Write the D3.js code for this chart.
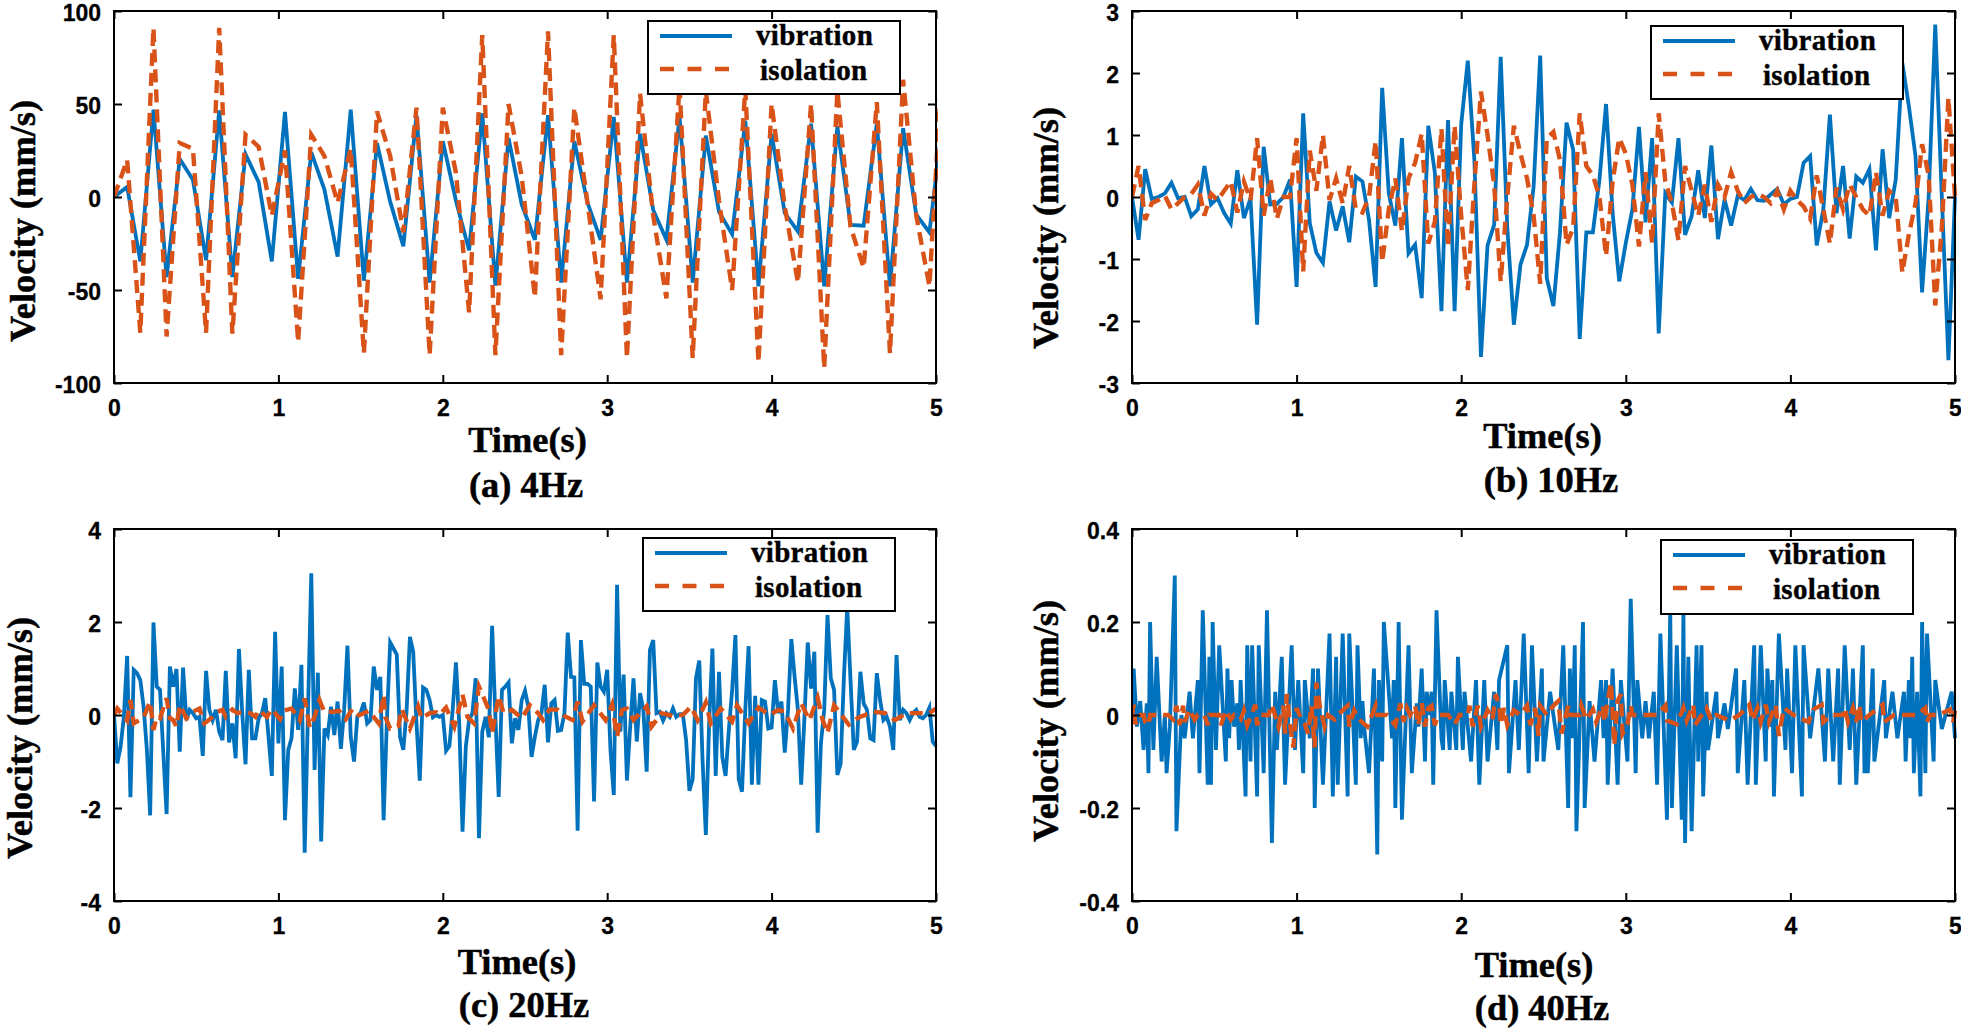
<!DOCTYPE html>
<html>
<head>
<meta charset="utf-8">
<script src="https://cdn.jsdelivr.net/npm/d3@7"></script>
<style>
	html, body { margin: 0; padding: 0; background: #fff; }
	svg { display: block; }
	.tick text { font-family: "Liberation Sans", Arial, sans-serif; font-weight: bold; font-size: 23px; fill: #000; stroke: #000; stroke-width: 0.3px; }
	.tick line { stroke: #000; stroke-width: 2px; }
	.label { font-family: "Liberation Serif", "Times New Roman", serif; font-weight: bold; font-size: 36.4px; fill: #000; stroke: #000; stroke-width: 0.5px; text-anchor: middle; }
	.legend-text { font-family: "Liberation Serif", "Times New Roman", serif; font-weight: bold; font-size: 29px; fill: #000; stroke: #000; stroke-width: 0.4px; letter-spacing: 0.3px; }
</style>
</head>
<body>
<div id="chart-area"></div>
<script>

// Values
let timeTicks = [0, 1, 2, 3, 4, 5];
let seriesNames = ["vibration", "isolation"];

// (a) 4Hz, one sample every 0.08 s
let stepA = 0.08;
let vibA = [0, 5.4, -34.6, 47, -43, 20.4, 9.3, -34, 46.5, -43, 23, 8, -34.6, 45.7, -44, 24, 4, -32, 47, -45, 29, -2.5, -26.5, 44, -46, 30, -2, -28.7, 45, -47.6, 31.7, -4, -23, 44, -46, 30, -3, -23, 43, -46, 34, -7, -23, 43, -46, 33, -8, -20, 41, -48, 34, -8.6, -18.5, 39.4, -48, 38, -15, -15.4, 39.4, -48, 37, -9.5, -19, 40];
let isoA = [0, 20, -73, 91, -75, 29, 26, -73, 91, -73.5, 33.5, 27, -10, 25, -78, 33.5, 22, -3, 26, -84, 46, 22, -19, 48, -85, 48, 13, -62, 87, -85, 50, 11, -54, 89, -85, 48, -3, -55, 87, -86.5, 55.5, -10, -54.5, 60, -86.5, 57, -2, -50, 58, -89, 50, -5, -46, 50, -92, 57, -16, -38, 51, -84, 63, -10, -48, 76];

// (b) 10Hz, one sample every 0.04 s
let stepB = 0.04;
let vibB = [0, -.69, .45, -.03, 0, .06, .23, -.02, 0, -.31, -.2, .5, -.12, -.02, -.26, -.43, .43, -.34, -.02, -2.06, .81, -.12, -.11, 0, .28, -1.45, 1.35, -.42, -.9, -1.06, -.07, -.54, -.15, -.73, .33, .25, -.37, -1.45, 1.76, .06, -.46, .95, -.91, -.77, -1.63, 1.15, .39, -1.84, 1.24, -1.84, 1.17, 2.2, .6, -2.58, -.78, -.45, 2.26, -.5, -2.06, -1.09, -.77, .17, 2.28, -1.31, -1.76, -.58, 1.2, .76, -2.29, -.57, -.57, .28, 1.5, -.26, -1.36, -.74, -.2, 1.13, -.41, .95, -2.2, .06, -.09, .95, -.61, -.31, .43, -.34, .83, -.68, -.04, -.46, .02, -.05, .13, -.05, -.06, .04, .13, -.12, -.03, 0, .55, .66, -.78, -.2, 1.33, -.26, .5, -.67, .33, .23, .45, -.86, .77, -.34, .28, 2.16, 1.46, .66, -1.54, 0, 2.78, 0, -2.63, 0];
let isoB = [0, .5, -.37, -.1, -.05, .02, -.2, -.1, 0, .05, .2, -.3, .05, -.05, .1, .25, -.25, .25, -.05, .95, -.3, .3, -.35, 0, 0, .95, -1.2, .75, .1, 1, -.05, .3, -.1, .5, -.2, -.25, 0, .9, -1.05, -.2, .3, -.55, .3, .55, 1.02, -.75, -.4, 1.1, -.8, 1.15, -.3, -1.5, .2, 1.7, 1, .2, -1.36, 0, 1.15, .7, .3, -.3, -1.4, .95, 1.05, .6, -.77, -.5, 1.35, .5, .35, 0, -.95, .25, .95, .7, .2, -.8, .4, -.75, 1.35, .25, -.1, -.7, .5, .1, -.3, .2, -.4, .2, 0, .4, .1, -.1, 0, .05, 0, -.1, .1, -.2, .1, -.05, -.15, -.35, .35, -.2, -.75, .15, -.2, .2, 0, -.2, -.3, .4, -.3, .1, 0, -1.22, -.6, -.1, .85, .35, -1.75, -.5, 1.6, 0];

// (c) 20Hz, one sample every 0.02 s
let stepC = 0.02;
let vibC = [0, -1.04, -.68, -.04, 1.27, -1.77, .97, .9, .75, .18, -.75, -2.16, 1.99, .61, .54, -.82, -2.13, 1.04, .61, .99, -.79, 1.02, -.11, .11, .04, -.07, -.04, -.88, .95, .11, -.11, .11, -.36, -.54, .95, -.59, -.18, -.93, 1.42, .04, -1.06, .97, -.5, -.5, -.07, .04, .36, -.47, -1.31, 1.79, -.61, 1.04, -2.26, -.75, -.5, .57, -.32, 1.08, -2.96, .1, 3.05, -1.18, .91, -2.72, -.29, -.43, .18, -.43, .29, -.73, .11, 1.49, -.47, -1, -.04, .04, .27, -.18, -.11, 1.04, .54, .82, -2.26, -.11, 1.56, 1.43, 1.3, -.47, -.75, .11, 1.68, 1.36, -.18, -1.41, .59, .54, .32, -.05, 0, -.04, 0, -.77, -.67, .1, 1.13, -.18, -2.51, -.68, -.11, .04, .79, -2.65, -.36, -.04, -.48, 1.92, -.04, -1.76, .54, .61, .7, -.61, -.07, -.32, .32, .52, .18, -.9, -.47, -.11, .04, .65, -.59, .25, .32, -.34, -.32, .04, 1.77, .82, .81, -2.49, 1.61, .67, .67, .61, -1.86, 1.13, .61, .5, .97, -.75, -1.72, 2.8, -.36, .87, -1.41, -.25, .79, -.57, .47, .11, -1.22, 1.4, 1.61, .04, .07, -.12, .04, -.04, .14, -.04, .02, .02, -.54, -1.63, -1.38, .79, 1.17, -.97, -2.58, -.18, 1.43, -1.31, .93, -.9, -1.31, -.32, .54, 1.72, -1.38, -1.65, .11, 1.48, -1.5, .41, -1.5, .32, .29, -.29, -.27, .75, .04, .29, -.81, .11, 1.63, .82, .11, -1.5, -.04, 1.56, .57, 1.36, -2.53, -.61, .11, 2.15, .79, .54, -1.29, -1.04, .82, 2.33, .75, -.75, -.57, .93, .25, .11, -.5, -.54, .9, .32, -.11, -.04, -.25, -.75, 1.29, -.11, .11, .04, -.11, .04, .11, -.04, -.07, 0, .16, -.57, -.67];
let isoC = [[0, 0], [.02, .14], [.08, -.12], [.1, .32], [.12, -.18], [.18, -.05], [.2, .12], [.22, .29], [.24, -.32], [.26, -.04], [.28, -.07], [.32, .36], [.34, -.07], [.36, -.11], [.38, -.25], [.4, .21], [.44, -.07], [.48, .07], [.52, .14], [.55, -.18], [.6, -.04], [.63, .07], [.66, .11], [.68, -.04], [.72, .12], [.75, .04], [.8, .07], [.83, .04], [.86, -.04], [.88, .11], [.93, -.04], [.96, .13], [1.01, -.09], [1.03, .09], [1.08, .14], [1.13, -.11], [1.16, .36], [1.19, -.27], [1.22, -.04], [1.25, .32], [1.28, .06], [1.33, .07], [1.37, .09], [1.41, -.09], [1.45, .13], [1.49, -.01], [1.55, .09], [1.61, -.18], [1.64, .43], [1.65, -.04], [1.68, -.29], [1.73, -.24], [1.75, .13], [1.8, -.29], [1.85, .18], [1.87, -.07], [1.92, .04], [1.96, .06], [1.98, 0], [2.02, .16], [2.07, -.25], [2.12, .44], [2.15, -.04], [2.19, -.18], [2.22, .61], [2.28, .11], [2.3, -.4], [2.34, .41], [2.37, .04], [2.42, .11], [2.48, -.07], [2.53, .21], [2.58, .04], [2.61, -.11], [2.65, .12], [2.7, .11], [2.74, -.02], [2.79, -.11], [2.82, .29], [2.85, -.14], [2.92, .21], [2.99, -.11], [3.03, .23], [3.06, -.47], [3.09, .11], [3.12, .14], [3.16, -.11], [3.2, .04], [3.24, .19], [3.27, -.25], [3.33, .04], [3.4, -.02], [3.46, 0], [3.51, .18], [3.55, -.11], [3.6, .27], [3.63, -.18], [3.69, .14], [3.76, -.14], [3.79, .21], [3.86, -.18], [3.92, .16], [3.99, 0], [4.04, .11], [4.08, .07], [4.13, -.29], [4.18, .25], [4.23, -.11], [4.28, .37], [4.31, -.1], [4.34, -.39], [4.38, .21], [4.47, -.21], [4.53, -.05], [4.62, .07], [4.69, .04], [4.75, -.11], [4.82, .04], [4.88, .04], [4.96, .04], [5, .14]];

// (d) 40Hz, turning points as [time, velocity]
let vibD = [[0, 0], [.01, .1], [.03, -.025], [.05, .03], [.07, -.075], [.09, .025], [.1, -.125], [.11, .2], [.13, -.075], [.15, .125], [.18, -.1], [.2, 0], [.21, -.125], [.23, -.025], [.26, .3], [.27, -.25], [.3, 0], [.32, -.05], [.35, .05], [.37, -.05], [.4, .075], [.41, -.125], [.43, .225], [.46, -.15], [.47, .125], [.48, -.15], [.49, .2], [.51, -.075], [.53, .15], [.57, -.1], [.58, .1], [.59, -.05], [.605, .075], [.62, -.025], [.64, .025], [.65, -.075], [.66, .075], [.69, -.175], [.7, .15], [.72, -.1], [.73, .15], [.76, -.175], [.77, .15], [.8, -.125], [.82, .225], [.85, -.275], [.87, .05], [.88, -.075], [.91, .125], [.93, -.15], [.97, .15], [.99, -.075], [1.01, .075], [1.04, -.125], [1.05, .075], [1.08, -.05], [1.1, .1], [1.11, -.2], [1.13, .1], [1.16, -.15], [1.2, .175], [1.22, -.175], [1.24, .125], [1.25, -.15], [1.28, .175], [1.31, -.175], [1.32, .175], [1.36, -.15], [1.37, .15], [1.39, -.05], [1.4, .03], [1.41, -.025], [1.44, -.125], [1.47, .1], [1.49, -.3], [1.5, .075], [1.52, -.1], [1.53, .2], [1.58, -.05], [1.59, .075], [1.6, -.2], [1.62, .2], [1.64, -.225], [1.68, .15], [1.7, -.125], [1.73, .025], [1.74, -.025], [1.76, .1], [1.78, -.1], [1.79, .05], [1.81, 0], [1.82, .05], [1.83, -.15], [1.85, .225], [1.88, -.05], [1.89, -.075], [1.9, .075], [1.93, -.075], [1.94, .05], [1.97, -.075], [1.98, .125], [2.01, -.075], [2.02, .05], [2.06, -.1], [2.09, .075], [2.11, -.15], [2.14, .075], [2.16, -.1], [2.2, .05], [2.22, -.075], [2.23, .075], [2.28, .15], [2.29, -.125], [2.33, .075], [2.35, -.075], [2.38, .175], [2.41, -.125], [2.43, .15], [2.46, -.1], [2.49, .1], [2.5, -.1], [2.54, .05], [2.59, -.075], [2.62, .15], [2.65, -.2], [2.66, .1], [2.675, -.05], [2.69, .15], [2.7, -.25], [2.74, .2], [2.75, -.2], [2.78, .03], [2.81, -.1], [2.85, .075], [2.865, -.05], [2.88, .075], [2.89, -.15], [2.92, .1], [2.95, -.15], [2.97, .075], [3.01, -.1], [3.03, .25], [3.06, -.125], [3.07, .075], [3.1, -.05], [3.12, .03], [3.14, -.05], [3.17, .05], [3.19, -.15], [3.21, .175], [3.25, -.225], [3.27, .225], [3.28, -.2], [3.31, .15], [3.34, -.225], [3.35, .225], [3.36, -.275], [3.38, .125], [3.4, -.25], [3.43, .15], [3.44, -.1], [3.46, .15], [3.47, -.175], [3.49, .05], [3.5, -.075], [3.55, .05], [3.56, -.05], [3.6, .025], [3.62, -.03], [3.64, .02], [3.67, .1], [3.68, -.125], [3.72, .075], [3.74, -.15], [3.78, .15], [3.79, -.15], [3.82, .15], [3.85, -.1], [3.86, .1], [3.88, -.025], [3.89, .075], [3.9, -.175], [3.93, .175], [3.97, -.075], [3.98, .1], [4.01, -.125], [4.03, .15], [4.07, -.175], [4.08, .15], [4.12, -.05], [4.17, .1], [4.21, -.1], [4.23, .1], [4.26, -.1], [4.29, .1], [4.3, -.15], [4.33, .15], [4.36, -.075], [4.38, .1], [4.4, -.15], [4.44, .15], [4.45, -.125], [4.46, 0], [4.47, -.125], [4.5, .1], [4.51, -.1], [4.57, .075], [4.58, -.05], [4.62, .05], [4.65, -.05], [4.69, .05], [4.7, -.1], [4.72, .075], [4.73, -.05], [4.74, .125], [4.75, -.125], [4.77, .05], [4.79, -.175], [4.8, .2], [4.82, -.125], [4.83, .175], [4.87, -.1], [4.88, .075], [4.92, -.03], [4.98, .05], [5, -.05]];
let isoD = [[0, 0], [.01, .022], [.02, -.02], [.04, 0], [.07, 0], [.08, -.015], [.1, -.022], [.11, 0], [.16, 0], [.22, 0], [.25, -.01], [.27, .02], [.29, -.022], [.31, .02], [.32, -.015], [.35, .012], [.38, -.01], [.4, 0], [.44, 0], [.46, -.022], [.47, 0], [.53, 0], [.54, -.022], [.57, .01], [.6, -.01], [.62, 0], [.66, -.01], [.68, .01], [.7, -.022], [.75, .022], [.76, -.022], [.78, 0], [.83, 0], [.85, .022], [.89, -.025], [.92, .02], [.93, -.04], [.94, .045], [.96, -.02], [.98, -.07], [1, .015], [1.03, -.01], [1.05, -.02], [1.07, -.04], [1.09, .02], [1.11, -.07], [1.12, .07], [1.14, .02], [1.17, -.025], [1.19, 0], [1.23, -.01], [1.25, 0], [1.31, .02], [1.32, -.025], [1.35, .01], [1.38, -.01], [1.43, -.025], [1.48, .02], [1.49, 0], [1.55, 0], [1.6, -.022], [1.63, .025], [1.65, -.015], [1.67, .015], [1.69, 0], [1.72, .02], [1.74, -.022], [1.76, .025], [1.78, -.025], [1.8, .015], [1.82, .02], [1.84, -.022], [1.86, 0], [1.92, 0], [1.96, -.02], [1.99, 0], [2.04, 0], [2.05, .02], [2.07, -.025], [2.1, .02], [2.12, -.025], [2.16, .01], [2.19, -.01], [2.21, .045], [2.23, .02], [2.24, -.02], [2.26, .015], [2.28, -.022], [2.32, .01], [2.36, 0], [2.4, .02], [2.42, -.022], [2.45, .015], [2.47, -.045], [2.48, .02], [2.52, 0], [2.56, .02], [2.59, .03], [2.61, -.04], [2.65, .02], [2.66, 0], [2.72, 0], [2.73, .02], [2.76, -.01], [2.8, .012], [2.82, -.015], [2.86, .02], [2.87, -.015], [2.89, .03], [2.91, .07], [2.93, -.065], [2.95, .03], [2.97, .045], [2.98, -.04], [3.01, -.02], [3.03, .02], [3.04, 0], [3.11, 0], [3.19, 0], [3.24, .02], [3.25, -.012], [3.31, -.02], [3.35, .015], [3.37, -.012], [3.41, .022], [3.42, -.022], [3.49, .015], [3.52, -.012], [3.55, 0], [3.63, -.012], [3.69, 0], [3.75, .022], [3.77, -.012], [3.8, .015], [3.82, -.015], [3.85, .022], [3.87, -.015], [3.91, .022], [3.93, -.045], [3.96, .015], [4.02, 0], [4.11, -.015], [4.14, .012], [4.19, .022], [4.2, -.015], [4.25, 0], [4.32, 0], [4.33, .015], [4.35, -.015], [4.38, .015], [4.4, -.015], [4.42, .022], [4.43, -.015], [4.48, 0], [4.56, .022], [4.57, -.015], [4.63, 0], [4.71, 0], [4.77, 0], [4.82, .015], [4.83, -.015], [4.85, 0], [4.9, 0], [4.97, .012], [4.99, -.015], [5, .01]];

let tagColors = {vibration: "#0072BD", isolation: "#D95319"};

let svg = d3.select("#chart-area").append("svg")
	.attr("width", 1961)
	.attr("height", 1032);

// turn a plain value list into [time, value] rows
function withStep(values, step) {
	return values.map((v, i) => [i * step, v]);
}

let panels = [
	{
		id: "a", title: "(a) 4Hz", ylim: [-100, 100], yticks: [-100, -50, 0, 50, 100],
		vib: withStep(vibA, stepA), iso: withStep(isoA, stepA),
		left: 114, right: 936, top: 11, bottom: 383,
		legend: {x: 648, y: 21, w: 252, h: 73},
		ylabel: {x: 35, y: 221}, xlabel: {x: 527.5, y: 452}, caption: {x: 526, y: 497}
	},
	{
		id: "b", title: "(b) 10Hz", ylim: [-3, 3], yticks: [-3, -2, -1, 0, 1, 2, 3],
		vib: withStep(vibB, stepB), iso: withStep(isoB, stepB),
		left: 1132, right: 1955, top: 11, bottom: 383,
		legend: {x: 1651, y: 26, w: 252, h: 73},
		ylabel: {x: 1058, y: 228}, xlabel: {x: 1542.5, y: 448}, caption: {x: 1551, y: 492}
	},
	{
		id: "c", title: "(c) 20Hz", ylim: [-4, 4], yticks: [-4, -2, 0, 2, 4],
		vib: withStep(vibC, stepC), iso: isoC,
		left: 114, right: 936, top: 529, bottom: 901,
		legend: {x: 643, y: 538, w: 252, h: 73},
		ylabel: {x: 32, y: 738}, xlabel: {x: 517, y: 974}, caption: {x: 524, y: 1017}
	},
	{
		id: "d", title: "(d) 40Hz", ylim: [-0.4, 0.4], yticks: [-0.4, -0.2, 0, 0.2, 0.4],
		vib: vibD, iso: isoD,
		left: 1132, right: 1955, top: 529, bottom: 901,
		legend: {x: 1661, y: 540, w: 252, h: 74},
		ylabel: {x: 1058, y: 721}, xlabel: {x: 1534, y: 977}, caption: {x: 1542, y: 1020}
	}
];

panels.forEach(drawPanel);


function drawPanel(p) {

	let xscale = d3.scaleLinear().domain([0, 5]).range([p.left, p.right]);
	let yscale = d3.scaleLinear().domain(p.ylim).range([p.bottom, p.top]);

	svg.append("clipPath")
		.attr("id", "clip-" + p.id)
		.append("rect")
		.attr("x", p.left)
		.attr("y", p.top)
		.attr("width", p.right - p.left + 2)
		.attr("height", p.bottom - p.top);

	let line = d3.line()
		.x(d => xscale(d[0]))
		.y(d => yscale(d[1]));

	let lines = svg.append("g").attr("clip-path", "url(#clip-" + p.id + ")");

	lines.append("path")
		.datum(p.vib)
		.attr("fill", "none")
		.attr("stroke", tagColors.vibration)
		.attr("stroke-width", 3.8)
		.attr("stroke-linejoin", "miter")
		.attr("d", line);

	lines.append("path")
		.datum(p.iso)
		.attr("fill", "none")
		.attr("stroke", tagColors.isolation)
		.attr("stroke-width", 4.4)
		.attr("stroke-dasharray", "13 7")
		.attr("d", line);

	// Axes, ticks point inwards and repeat on the far sides
	let axes = [
		{call: d3.axisBottom(xscale).tickValues(timeTicks).tickFormat(d3.format("d")).tickPadding(17), at: [0, p.bottom]},
		{call: d3.axisTop(xscale).tickValues(timeTicks).tickFormat(""), at: [0, p.top]},
		{call: d3.axisLeft(yscale).tickValues(p.yticks).tickFormat(d => d).tickPadding(13), at: [p.left, 0]},
		{call: d3.axisRight(yscale).tickValues(p.yticks).tickFormat(""), at: [p.right, 0]}
	];

	axes.forEach(a => {
		let g = svg.append("g")
			.attr("transform", "translate(" + a.at[0] + "," + a.at[1] + ")")
			.call(a.call.tickSizeInner(-8).tickSizeOuter(0));
		g.select(".domain").remove();
		g.selectAll("text").attr("fill", "#000");
	});

	// nudge y tick labels down a touch
	svg.selectAll("g").filter(function() { return this.getAttribute("text-anchor") === "end"; })
		.selectAll("text").attr("dy", "0.42em");

	svg.append("rect")
		.attr("x", p.left)
		.attr("y", p.top)
		.attr("width", p.right - p.left)
		.attr("height", p.bottom - p.top)
		.attr("fill", "none")
		.attr("stroke", "#000")
		.attr("stroke-width", 2);

	// Legend
	let legend = svg.append("g")
		.attr("transform", "translate(" + p.legend.x + "," + p.legend.y + ")");

	legend.append("rect")
		.attr("width", p.legend.w)
		.attr("height", p.legend.h)
		.attr("fill", "#fff")
		.attr("stroke", "#000")
		.attr("stroke-width", 2);

	seriesNames.forEach((name, i) => {
		legend.append("line")
			.attr("x1", 12)
			.attr("x2", 84)
			.attr("y1", 15 + i * 33)
			.attr("y2", 15 + i * 33)
			.attr("stroke", tagColors[name])
			.attr("stroke-width", i === 0 ? 3.8 : 4.6)
			.attr("stroke-dasharray", i === 0 ? null : "14 13.5");

		legend.append("text")
			.attr("class", "legend-text")
			.attr("x", i === 0 ? 108 : 112)
			.attr("y", 24 + i * 35)
			.text(name);
	});

	// Labels
	svg.append("text")
		.attr("class", "label")
		.attr("transform", "translate(" + p.ylabel.x + "," + p.ylabel.y + ") rotate(-90)")
		.text("Velocity (mm/s)");

	svg.append("text")
		.attr("class", "label")
		.attr("x", p.xlabel.x)
		.attr("y", p.xlabel.y)
		.text("Time(s)");

	svg.append("text")
		.attr("class", "label")
		.attr("x", p.caption.x)
		.attr("y", p.caption.y)
		.text(p.title);
}

</script>
</body>
</html>
